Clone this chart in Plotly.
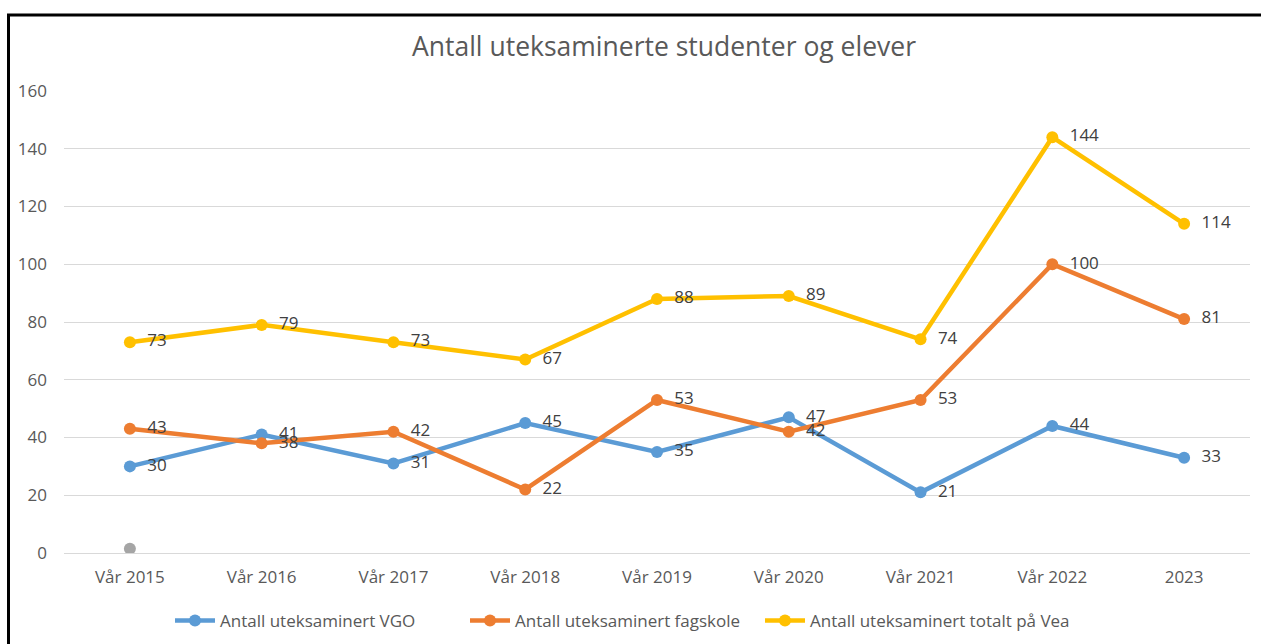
import plotly.graph_objects as go

categories = ["Vår 2015", "Vår 2016", "Vår 2017", "Vår 2018", "Vår 2019",
              "Vår 2020", "Vår 2021", "Vår 2022", "2023"]
vgo = [30, 41, 31, 45, 35, 47, 21, 44, 33]
fagskole = [43, 38, 42, 22, 53, 42, 53, 100, 81]
totalt = [73, 79, 73, 67, 88, 89, 74, 144, 114]
stray_cat = ["Vår 2015"]
stray_val = [1.5]

names = ["Antall uteksaminert VGO", "Antall uteksaminert fagskole",
         "Antall uteksaminert totalt på Vea"]
colors = ["#5B9BD5", "#ED7D31", "#FFC000"]
legend_ids = ["legend", "legend", "legend2"]

W, H = 1261, 644
pl, pr, pt, pb = 64, 1250, 91, 553   # plot area in page pixels
L, T = pl, pt
R = W - pr
B = H - pb
pw, ph = pr - pl, pb - pt


def px(x):
    return (x - pl) / pw


def py(y):
    return (pb - y) / ph


FONT = "Open Sans"
fig = go.Figure()
for vals, name, col, lg in zip([vgo, fagskole, totalt], names, colors, legend_ids):
    fig.add_trace(go.Scatter(
        x=categories, y=vals, name=name, mode="lines+markers+text",
        line=dict(color=col, width=4.5), marker=dict(color=col, size=12),
        text=["  " + str(v) for v in vals], textposition="middle right",
        textfont=dict(family=FONT, size=17, color="#404040"),
        cliponaxis=False, legend=lg,
    ))
fig.add_trace(go.Scatter(
    x=stray_cat, y=stray_val, mode="markers", showlegend=False,
    marker=dict(color="#A5A5A5", size=12),
))

leg_common = dict(orientation="h", yanchor="middle", xanchor="left", y=py(621),
                  font=dict(family=FONT, size=17, color="#595959"),
                  itemwidth=40, traceorder="normal", bgcolor="rgba(0,0,0,0)")

fig.update_layout(
    width=W, height=H,
    margin=dict(l=L, r=R, t=T, b=B, autoexpand=False),
    paper_bgcolor="white", plot_bgcolor="white",
    font=dict(family=FONT, color="#595959", size=17),
    showlegend=True,
    legend=dict(x=px(170), entrywidth=240, entrywidthmode="pixels", **leg_common),
    legend2=dict(x=px(760), **leg_common),
    xaxis=dict(type="category", showgrid=False, zeroline=False, showline=False,
               ticks="", ticklabelstandoff=12, range=[-0.5, 8.5],
               tickfont=dict(family=FONT, size=17, color="#595959")),
    yaxis=dict(range=[0, 160], dtick=20, showgrid=True, gridcolor="#D9D9D9", gridwidth=1,
               zeroline=True, zerolinecolor="#D9D9D9", zerolinewidth=1, showline=False,
               ticks="", ticklabelstandoff=16,
               tickfont=dict(family=FONT, size=17, color="#595959")),
    annotations=[dict(text="Antall uteksaminerte studenter og elever",
                      xref="paper", yref="paper", x=px(664), y=py(46),
                      xanchor="center", yanchor="middle", showarrow=False,
                      font=dict(family=FONT, size=26.5, color="#595959"))],
    shapes=[
        dict(type="line", xref="paper", yref="paper", x0=px(7), x1=px(W + 10),
             y0=py(15), y1=py(15), line=dict(color="black", width=3)),
        dict(type="line", xref="paper", yref="paper", x0=px(8.5), x1=px(8.5),
             y0=py(14), y1=py(H + 10), line=dict(color="black", width=3)),
    ],
)

fig.write_html("out.html",
               config={"displayModeBar": False},
               post_script="document.body.style.margin='0';"
                           "document.documentElement.style.overflow='hidden';")
